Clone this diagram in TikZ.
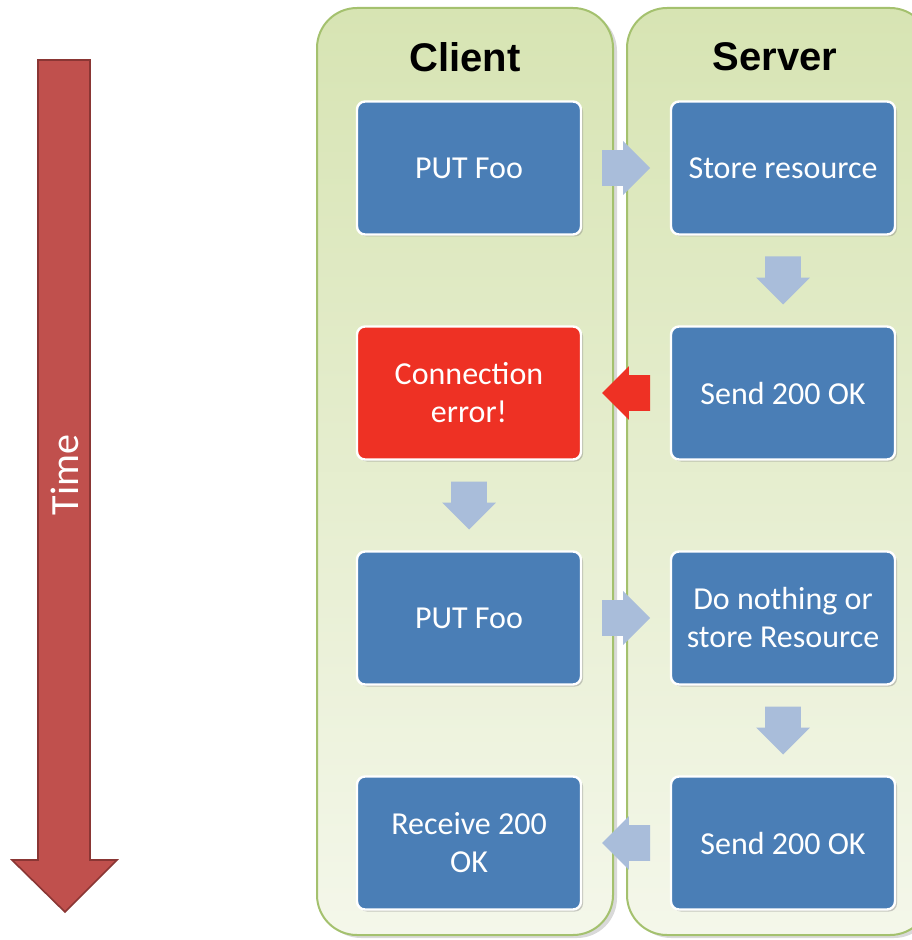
\documentclass[tikz,border=0pt]{standalone}
\usepackage{fontspec}
\setmainfont{Carlito}
\newfontfamily\hdfont{Liberation Sans}
\usetikzlibrary{shapes.arrows,shadows,calc}
\definecolor{laneline}{HTML}{A4C16E}
\definecolor{lanetop}{HTML}{D7E4B3}
\definecolor{lanebot}{HTML}{F4F7EA}
\definecolor{stepblue}{HTML}{4A7EB6}
\definecolor{errred}{HTML}{EE3124}
\definecolor{flowblue}{HTML}{A9BDDA}
\definecolor{timered}{HTML}{C0504D}
\definecolor{timeedge}{HTML}{8A3634}
\newcommand{\boxfont}{\fontsize{16}{19}\selectfont}
\newcommand{\hdsize}{\hdfont\bfseries\fontsize{20}{24}\selectfont}

\begin{document}
\begin{tikzpicture}[x=0.5pt,y=-0.5pt,
  lane/.style={draw=laneline,line width=1pt,rounded corners=20pt,
    top color=lanetop,bottom color=lanebot,
    drop shadow={shadow xshift=2pt,shadow yshift=-1.5pt,opacity=0.3}},
  stepbox/.style={draw=white,line width=1.2pt,fill=stepblue,rounded corners=4pt,
    text=white,minimum width=112pt,minimum height=66.5pt,align=center,
    font=\boxfont,drop shadow={shadow xshift=1pt,shadow yshift=-1pt,opacity=0.4}},
  errbox/.style={stepbox,fill=errred},
  flow/.style={single arrow,fill=flowblue,inner xsep=0pt,inner ysep=8.75pt,
    minimum height=24pt,single arrow head extend=4.5pt,outer sep=0pt,anchor=tail},
  header/.style={font=\hdsize}]
     \useasboundingbox (0,0) rectangle (911,940);
     \draw[fill=timered,draw=timeedge,line width=0.8pt] (38,60) -- (90,60) --
       (90,860) -- (117,860) -- (65,912) -- (12,860) -- (38,860) -- cycle;
     \node[text=white,rotate=90,font=\fontsize{20}{24}\selectfont] (time) at (65,475) {Time};
     \draw[lane] (317,8) rectangle (613,935);
     \draw[lane] (627,8) rectangle (930,935);
     \node[header] (client) at (465,57) {Client};
     \node[header] (server) at (775,57) {Server};
     \node[stepbox] (put1) at (469,168) {PUT Foo};
     \node[stepbox] (store) at (783,168) {Store resource};
     \node[errbox] (connerr) at (469,393) {Connection\\error!};
     \node[stepbox] (send1) at (783,393) {Send 200 OK};
     \node[stepbox] (put2) at (469,618) {PUT Foo};
     \node[stepbox] (nothing) at (783,618) {Do nothing or\\store Resource};
     \node[stepbox] (receive) at (469,843) {Receive 200\\OK};
     \node[stepbox] (send2) at (783,843) {Send 200 OK};
     \node[flow] (f1) at ($(put1.east)!0.5!(store.west)+(-24,0)$) {};
     \node[flow,rotate=-90] (f2) at ($(store.south)!0.5!(send1.north)+(0,-24)$) {};
     \node[flow,fill=errred,rotate=180] (f3) at ($(send1.west)!0.5!(connerr.east)+(24,0)$) {};
     \node[flow,rotate=-90] (f4) at ($(connerr.south)!0.5!(put2.north)+(0,-24)$) {};
     \node[flow] (f5) at ($(put2.east)!0.5!(nothing.west)+(-24,0)$) {};
     \node[flow,rotate=-90] (f6) at ($(nothing.south)!0.5!(send2.north)+(0,-24)$) {};
     \node[flow,rotate=180] (f7) at ($(send2.west)!0.5!(receive.east)+(24,0)$) {};
\end{tikzpicture}
\end{document}
